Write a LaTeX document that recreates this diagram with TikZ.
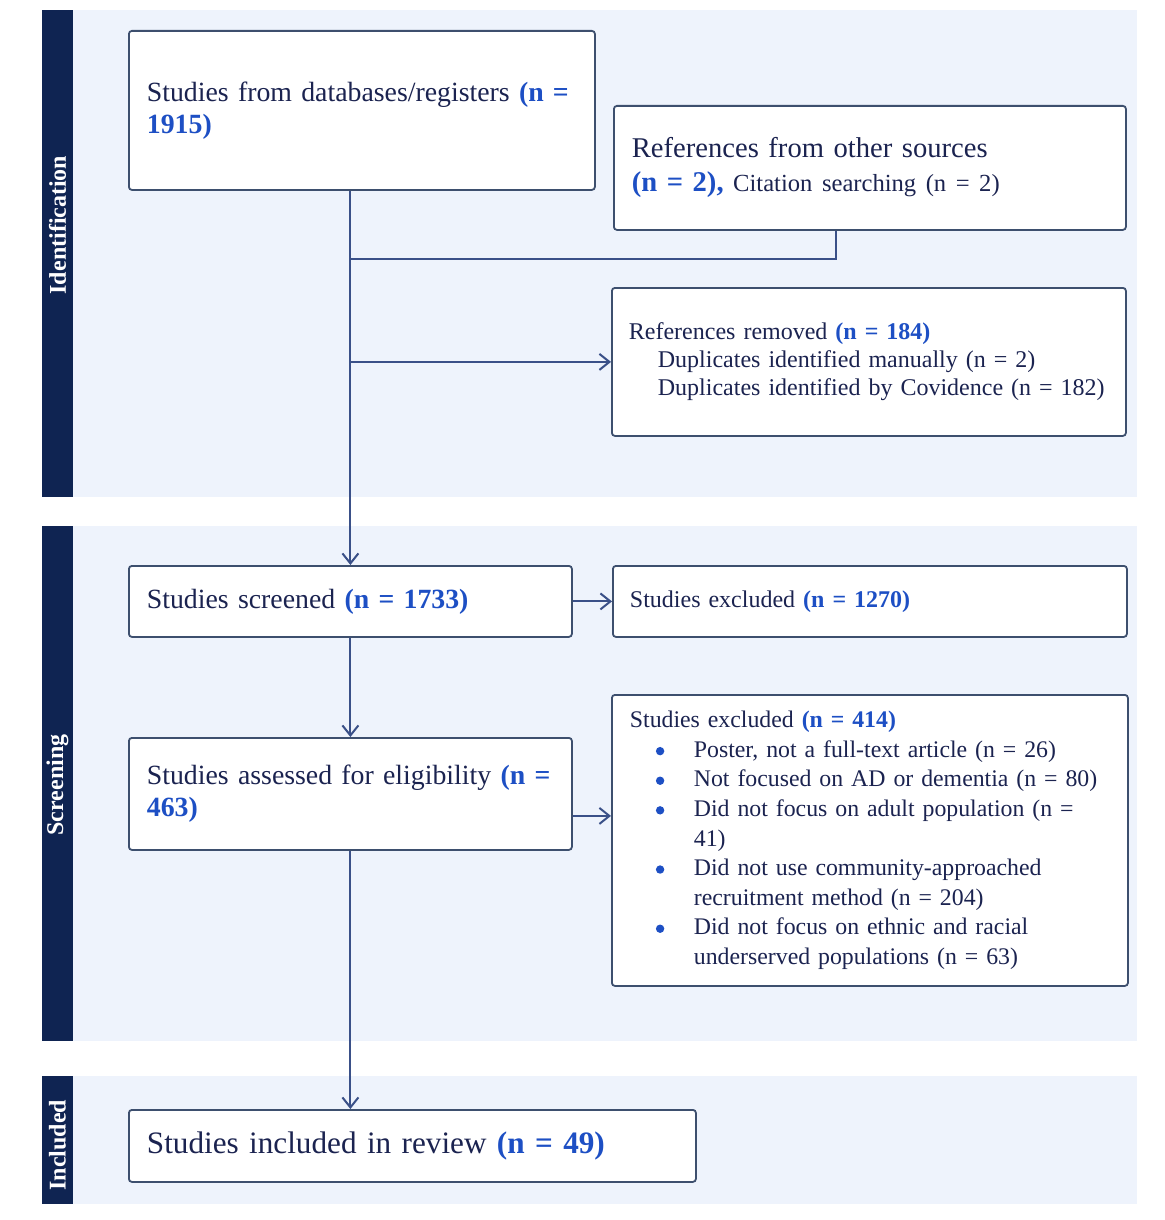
\documentclass[tikz,border=0pt]{standalone}
\usepackage{fontspec}
\setmainfont{Liberation Serif}
\usetikzlibrary{arrows.meta,positioning,calc}
\definecolor{navy}{HTML}{0F2452}
\definecolor{band}{HTML}{EEF3FC}
\definecolor{ink}{HTML}{1B2350}
\definecolor{nblue}{HTML}{1D4FC4}
\definecolor{frame}{HTML}{3D4F6E}
\definecolor{wire}{HTML}{3A5088}
\newcommand{\nb}[1]{\textbf{\textcolor{nblue}{#1}}}
\newcommand{\blt}{\hspace*{13pt}\makebox[19pt][l]{\tikz[baseline=0pt]\fill[nblue] (2.2pt,3.1pt) circle[radius=2.1pt];}}
\newcommand{\bltc}{\hspace*{32pt}}
\tikzset{
  flowbox/.style={draw=frame,line width=0.9pt,rounded corners=1.5pt,fill=white,align=left,
    anchor=north west,inner xsep=9pt,inner ysep=0pt,text=ink},
  bigtxt/.style={font=\fontsize{13.9}{16}\selectfont},
  smalltxt/.style={font=\fontsize{12}{14}\selectfont},
  link/.style={draw=wire,line width=1pt},
  arr/.style={link,-{Straight Barb[length=5pt,width=8pt]}},
  stage/.style={rotate=90,text=white,font=\fontsize{12}{14}\selectfont\bfseries},
}
\begin{document}
\begin{tikzpicture}[x=0.5pt,y=-0.5pt]
\useasboundingbox[fill=white] (0,0) rectangle (1164,1220);
% stage bands
\fill[band] (73,10) rectangle (1137,497);
\fill[band] (73,526) rectangle (1137,1041);
\fill[band] (73,1076) rectangle (1137,1204);
\fill[navy] (42,10) rectangle (73,497);
\fill[navy] (42,526) rectangle (73,1041);
\fill[navy] (42,1076) rectangle (73,1204);
\node[stage] (idlab) at (57.5,225) {Identification};
\node[stage] (sclab) at (57.5,785) {Screening};
\node[stage] (inlab) at (57.5,1145) {Included};
% boxes
\node[flowbox,bigtxt,minimum width=233pt,minimum height=79.5pt,text width=215pt] (db) at (128,30)
  {Studies from databases/registers \nb{(n =}\\ \nb{1915)}};
\node[flowbox,font=\fontsize{14.3}{17}\selectfont,minimum width=256pt,minimum height=62pt,text width=238pt,inner xsep=8.5pt] (other) at (613,105)
  {References from other sources\\
   \nb{(n = 2),} {\fontsize{12.3}{14}\selectfont Citation searching (n = 2)}};
\node[flowbox,smalltxt,minimum width=257pt,minimum height=74pt,text width=240pt,inner xsep=8.5pt] (removed) at (611,287)
  {References removed \nb{(n = 184)}\\
   \hspace*{14.5pt}Duplicates identified manually (n = 2)\\
   \hspace*{14.5pt}Duplicates identified by Covidence (n = 182)};
\node[flowbox,bigtxt,minimum width=221.5pt,minimum height=35.5pt,text width=203.5pt] (screened) at (128,565)
  {Studies screened \nb{(n = 1733)}};
\node[flowbox,smalltxt,minimum width=256.5pt,minimum height=35.5pt,text width=240pt,inner xsep=8.5pt] (excl1) at (612,565)
  {Studies excluded \nb{(n = 1270)}};
\node[flowbox,bigtxt,minimum width=221.5pt,minimum height=56pt,text width=203.5pt] (assessed) at (128,737)
  {Studies assessed for eligibility \nb{(n =}\\ \nb{463)}};
\node[flowbox,font=\fontsize{11.9}{14.8}\selectfont,minimum width=257pt,minimum height=145.5pt,text width=240pt,inner xsep=9pt] (excl2) at (611,694)
  {Studies excluded \nb{(n = 414)}\\
   \blt Poster, not a full-text article (n = 26)\\
   \blt Not focused on AD or dementia (n = 80)\\
   \blt Did not focus on adult population (n =\\
   \bltc 41)\\
   \blt Did not use community-approached\\
   \bltc recruitment method (n = 204)\\
   \blt Did not focus on ethnic and racial\\
   \bltc underserved populations (n = 63)};
\node[flowbox,font=\fontsize{15.6}{18}\selectfont,minimum width=283.5pt,minimum height=36pt,text width=265.5pt] (included) at (128,1109)
  {Studies included in review \nb{(n = 49)}};
% connectors
\coordinate (merge) at (350,259);
\draw[arr] (db.south -| screened.north) -- (screened.north);
\draw[link] ([xshift=-17pt]other.south) |- (merge);
\draw[arr] (removed.west -| screened.north) -- (removed.west);
\draw[arr] (screened.east) -- (excl1.west);
\draw[arr] (screened.south) -- (assessed.north);
\draw[arr] ([yshift=-11pt]assessed.east) -- ([yshift=-11pt]assessed.east -| excl2.west);
\draw[arr] (assessed.south) -- (assessed.south |- included.north);
\end{tikzpicture}
\end{document}
